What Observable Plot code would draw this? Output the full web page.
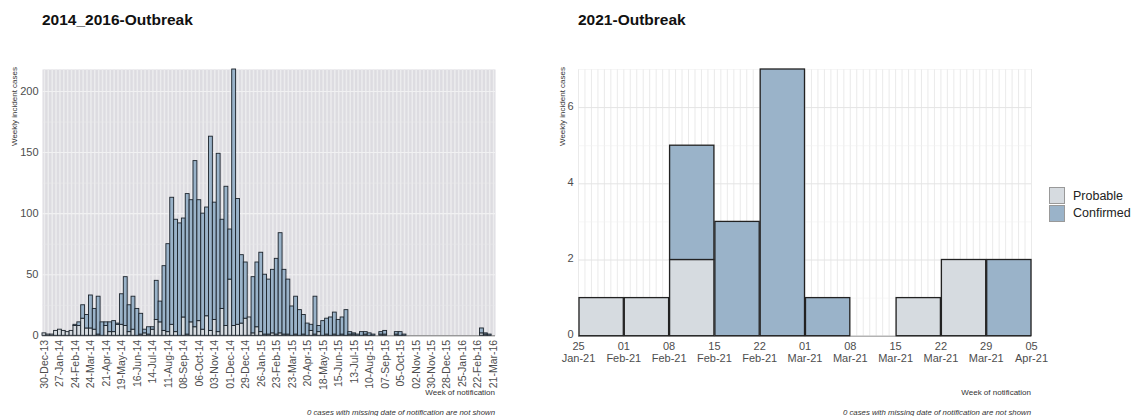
<!DOCTYPE html>
<html><head><meta charset="utf-8">
<script src="https://cdn.jsdelivr.net/npm/d3@7"></script>
<script src="https://cdn.jsdelivr.net/npm/@observablehq/plot@0.6"></script>
<style>
body{margin:0;background:#fff;font-family:"Liberation Sans",Arial,sans-serif;}
#wrap{position:relative;width:1132px;height:416px;overflow:hidden;background:#fff;}
.abs{position:absolute;white-space:nowrap;line-height:1;}
.title{font-weight:bold;font-size:15.5px;color:#111;}
.ylab{font-size:8px;color:#333;transform:rotate(-90deg);transform-origin:left top;}
.xlab{font-size:8px;color:#333;text-align:right;}
.cap{font-size:7.8px;color:#333;font-style:italic;text-align:right;}
.sw{position:absolute;width:16px;height:17px;border:1px solid #999;box-sizing:border-box;}
.leg{font-size:12.5px;color:#222;}
</style></head><body><div id="wrap"></div>
<script>
// ---------- data: 2014-2016 outbreak (weekly, from week of 30-Dec-13) ----------
const firstWeek2014 = "2013-12-30";
const total2014 = [
  2,1,1,4,5,4,3,4,9,11, 25,17,33,22,32,11,11,11,12,10,
  34,48,25,32,22,18,5,7,7,45, 28,57,75,113,95,92,96,116,111,143,
  111,100,105,163,109,149,95,122,87,218, 112,66,60,15,48,60,68,50,46,54,
  63,84,54,46,24,32,21,17,10,9, 32,8,12,14,15,19,13,15,21,3,
  2,1,3,3,2,1,0,3,4,0, 0,3,3,1,0,0,0,0,0,0,
  0,0,0,0,0,0,0,0,0,0, 0,0,0,6,2,1,0
];
const probable2014 = [
  2,1,1,4,5,4,3,4,8,8, 14,6,6,5,1,0,8,3,3,9,
  9,8,3,5,0,1,2,1,5,13, 11,4,3,9,3,0,15,1,11,7,
  12,5,16,4,13,3,22,8,46,8, 9,10,14,15,2,7,3,1,1,2,
  1,2,1,1,0,1,0,1,0,4, 1,3,0,1,0,1,0,1,0,1,
  1,0,0,1,0,0,0,1,1,0, 0,1,0,0,0,0,0,0,0,0,
  0,0,0,0,0,0,0,0,0,0, 0,0,0,2,1,0,0
];
const yTicks2014 = [0, 50, 100, 150, 200];

// ---------- data: 2021 outbreak ----------
const weeks2021 = ["2021-01-25","2021-02-01","2021-02-08","2021-02-15","2021-02-22",
                   "2021-03-01","2021-03-08","2021-03-15","2021-03-22","2021-03-29"];
const probable2021  = [1,1,2,0,0,0,0,1,2,0];
const confirmed2021 = [0,0,3,3,7,1,0,0,0,2];
const axisEnd2021 = "2021-04-05";
const yTicks2021 = [0, 2, 4, 6];

const statuses = ["Probable", "Confirmed"];
const statusColors = ["#d6dbe0", "#9ab3c9"];

// ---------- build tables ----------
const fmt14 = d3.utcFormat("%d-%b-%y");
const start14 = new Date(firstWeek2014 + "T00:00:00Z");
const weekLabels14 = total2014.map((_, i) => fmt14(d3.utcDay.offset(start14, 7 * i)));
const tickLabels14 = weekLabels14.filter((_, i) => i % 4 === 0);
const rows14 = [];
weekLabels14.forEach((w, i) => {
  const p = probable2014[i], c = total2014[i] - probable2014[i];
  if (p > 0) rows14.push({week: w, status: "Probable", n: p});
  if (c > 0) rows14.push({week: w, status: "Confirmed", n: c});
});

const dates21 = weeks2021.map(d => new Date(d + "T00:00:00Z"));
const end21 = new Date(axisEnd2021 + "T00:00:00Z");
const rows21 = [];
dates21.forEach((d, i) => {
  if (probable2021[i] > 0) rows21.push({date: d, status: "Probable", n: probable2021[i]});
  if (confirmed2021[i] > 0) rows21.push({date: d, status: "Confirmed", n: confirmed2021[i]});
});
const ticks21 = [...dates21, end21];

const font = "Liberation Sans, Arial, sans-serif";
const wrap = document.getElementById("wrap");

// ---------- left chart ----------
const left = Plot.plot({
  width: 510, height: 356,
  marginLeft: 42, marginRight: 15, marginTop: 9, marginBottom: 80.7,
  style: {fontFamily: font, fontSize: "10.5px", color: "#4d4d4d", background: "transparent"},
  x: {type: "band", domain: weekLabels14, padding: 0, label: null},
  y: {domain: [0, 218], label: null},
  color: {domain: statuses, range: statusColors},
  marks: [
    Plot.frame({fill: "#dddce1", stroke: null}),
    Plot.gridX({ticks: weekLabels14, stroke: "#ececee", strokeWidth: 1.5, strokeOpacity: 1}),
    Plot.gridY({ticks: [25, 75, 125, 175], stroke: "#e9e9eb", strokeWidth: 0.6, strokeOpacity: 1}),
    Plot.gridY({ticks: yTicks2014, stroke: "#f1f1f2", strokeWidth: 1.1, strokeOpacity: 1}),
    Plot.ruleY([0], {stroke: "#555", strokeWidth: 0.8}),
    Plot.barY(rows14, {x: "week", y: "n", fill: "status", stroke: "#1c242c", strokeWidth: 0.9}),
    Plot.axisX({ticks: tickLabels14, tickRotate: -90, tickSize: 0, tickPadding: 4, label: null}),
    Plot.axisY({ticks: yTicks2014, tickSize: 0, tickPadding: 4, label: null, fontSize: 11})
  ]
});
left.style.position = "absolute"; left.style.left = "0px"; left.style.top = "60px";
wrap.appendChild(left);

// ---------- right chart ----------
const right = Plot.plot({
  width: 520, height: 356,
  marginLeft: 33, marginRight: 34, marginTop: 9, marginBottom: 80.3,
  style: {fontFamily: font, fontSize: "11px", color: "#4d4d4d", background: "transparent"},
  x: {type: "utc", domain: [dates21[0], end21], label: null},
  y: {domain: [0, 7], label: null},
  color: {domain: statuses, range: statusColors},
  marks: [
    Plot.gridX({ticks: d3.utcDay.range(dates21[0], d3.utcDay.offset(end21, 1)), stroke: "#e4e4e4", strokeWidth: 0.8, strokeOpacity: 1}),
    Plot.gridY({ticks: [1, 3, 5, 7], stroke: "#f0f0f0", strokeWidth: 0.6, strokeOpacity: 1}),
    Plot.gridY({ticks: yTicks2021, stroke: "#e4e4e4", strokeWidth: 1, strokeOpacity: 1}),
    Plot.ruleY([0], {stroke: "#9a9a9a", strokeWidth: 1}),
    Plot.rectY(rows21, {x: "date", interval: d3.utcMonday, y: "n", fill: "status", stroke: "#222", strokeWidth: 1.3}),
    Plot.axisX({ticks: ticks21, tickFormat: d => d3.utcFormat("%d")(d) + "\n" + d3.utcFormat("%b-%y")(d),
                tickSize: 0, tickPadding: 4.5, label: null, lineHeight: 1.15}),
    Plot.axisY({ticks: yTicks2021, tickFormat: d => String(d), tickSize: 0, tickPadding: 5, dy: -1.5, label: null})
  ]
});
right.style.position = "absolute"; right.style.left = "545px"; right.style.top = "60px";
wrap.appendChild(right);

// ---------- texts ----------
function addText(cls, text, css) {
  const d = document.createElement("div");
  d.className = "abs " + cls;
  d.textContent = text;
  Object.assign(d.style, css);
  wrap.appendChild(d);
  return d;
}
addText("title", "2014_2016-Outbreak", {left: "42px", top: "12px"});
addText("title", "2021-Outbreak", {left: "578px", top: "12px"});
addText("ylab", "Weekly incident cases", {left: "11px", top: "146px"});
addText("ylab", "Weekly incident cases", {left: "559px", top: "146px"});
addText("xlab", "Week of notification", {right: (1132 - 495) + "px", top: "389px"});
addText("xlab", "Week of notification", {right: (1132 - 1031) + "px", top: "389px"});
addText("cap", "0 cases with missing date of notification are not shown", {right: (1132 - 495) + "px", top: "409px"});
addText("cap", "0 cases with missing date of notification are not shown", {right: (1132 - 1031) + "px", top: "409px"});

// legend
const legTop = 187;
statuses.forEach((s, i) => {
  const sw = document.createElement("div");
  sw.className = "sw";
  Object.assign(sw.style, {left: "1049px", top: (legTop + i * 18) + "px", background: statusColors[i]});
  wrap.appendChild(sw);
  addText("leg", s, {left: "1073px", top: (legTop + 3 + i * 17) + "px"});
});
</script></body></html>
